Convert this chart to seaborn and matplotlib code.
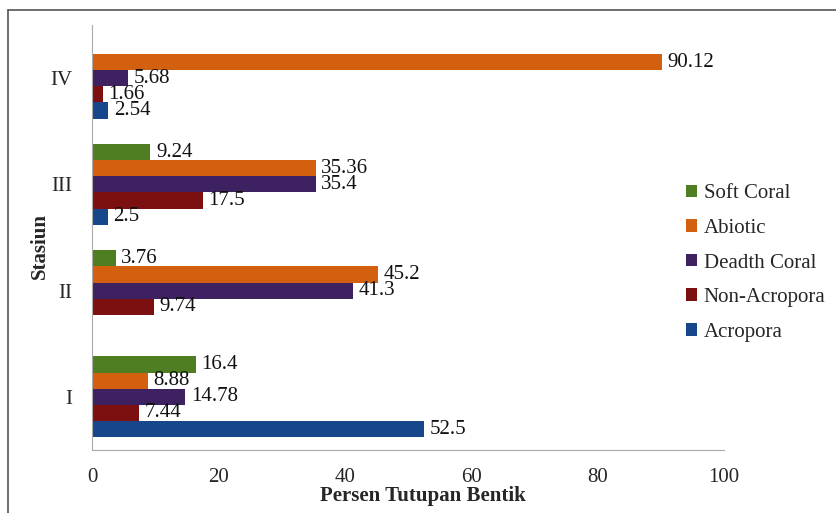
import pandas as pd
import seaborn as sns
import matplotlib.pyplot as plt
from matplotlib.lines import Line2D

# Datos
stasiun = ['IV', 'III', 'II', 'I']
kategori = ['Soft Coral', 'Abiotic', 'Deadth Coral', 'Non-Acropora', 'Acropora']
soft_coral = [0, 9.24, 3.76, 16.4]
abiotic = [90.12, 35.36, 45.2, 8.88]
deadth_coral = [5.68, 35.4, 41.3, 14.78]
non_acropora = [1.66, 17.5, 9.74, 7.44]
acropora = [2.54, 2.5, 0, 52.5]
warna = ['#4e7d22', '#d2600f', '#3d2160', '#7c1010', '#17468a']

series = [soft_coral, abiotic, deadth_coral, non_acropora, acropora]
rows = []
for nama, vals in zip(kategori, series):
    for s, v in zip(stasiun, vals):
        rows.append({'Stasiun': s, 'Kategori': nama, 'Nilai': v})
df = pd.DataFrame(rows)

sns.set_style('white')
plt.rcParams['font.family'] = ['Liberation Serif', 'DejaVu Serif']
fs = 15

fig = plt.figure(figsize=(8.37, 5.13), dpi=100)
ax = fig.add_axes([0.11, 0.123, 0.755, 0.828])

sns.barplot(data=df, y='Stasiun', x='Nilai', hue='Kategori', order=stasiun,
            hue_order=kategori, palette=warna, orient='h', width=0.76,
            linewidth=0, saturation=1, ax=ax)

for cont, vals in zip(ax.containers, series):
    ax.bar_label(cont, labels=[f'{v:g}' if v else '' for v in vals],
                 padding=4, fontsize=fs, color='#111111')

ax.set_xlim(0, 100)
ax.set_xticks(range(0, 101, 20))
ax.set_ylim(3.5, -0.5)
ax.set_yticks([-0.5, 0.5, 1.5, 2.5, 3.5], minor=True)
ax.tick_params(axis='y', which='major', length=0, labelsize=fs, pad=14)
ax.tick_params(axis='y', which='minor', length=4, color='#aaaaaa')
ax.tick_params(axis='x', length=4, color='#aaaaaa', labelsize=fs, pad=9)
for sp in ['top', 'right']:
    ax.spines[sp].set_visible(False)
for sp in ['left', 'bottom']:
    ax.spines[sp].set_color('#aaaaaa')

ax.set_xlabel('Persen Tutupan Bentik', fontsize=fs, fontweight='bold')
ax.set_ylabel('Stasiun', fontsize=fs, fontweight='bold')
ax.xaxis.set_label_coords(0.524, -0.085)
ax.yaxis.set_label_coords(-0.066, 0.48)

handles, labels = ax.get_legend_handles_labels()
ax.legend(handles, labels, loc='center left', bbox_to_anchor=(0.91, 0.44),
          frameon=False, fontsize=fs, handlelength=0.55, handleheight=0.55,
          handletextpad=0.3, labelspacing=0.75)

# marco de la figura (solo izquierda y arriba visibles)
fig.add_artist(Line2D([0.0096, 0.0096], [0, 0.98], transform=fig.transFigure,
                      color='#555555', linewidth=1.2))
fig.add_artist(Line2D([0.0096, 1], [0.98, 0.98], transform=fig.transFigure,
                      color='#555555', linewidth=1.2))

fig.savefig('out.png', dpi=100)
